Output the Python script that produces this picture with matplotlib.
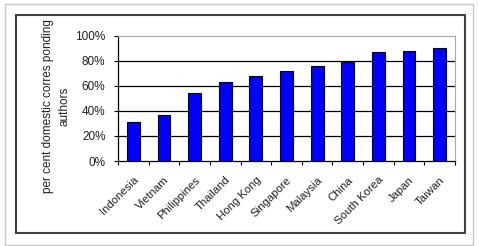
import matplotlib
matplotlib.use("Agg")
import matplotlib.pyplot as plt
from matplotlib.patches import Rectangle
from matplotlib.transforms import ScaledTranslation

categories = ["Indonesia", "Vietnam", "Philippines", "Thailand", "Hong Kong",
              "Singapore", "Malaysia", "China", "South Korea", "Japan", "Taiwan"]
values = [31, 37, 54, 63, 68, 72, 76, 79, 87, 88, 90]
yticks = [0, 20, 40, 60, 80, 100]
ytick_labels = ["0%", "20%", "40%", "60%", "80%", "100%"]

plt.rcParams['font.family'] = ['Liberation Sans', 'DejaVu Sans']

W, H = 479, 246
fig = plt.figure(figsize=(W / 100, H / 100), dpi=100)
fig.patch.set_facecolor("white")

# outer light frame and inner dark frame
fig.add_artist(Rectangle((5 / W, 1 - 245 / H), 468 / W, 241 / H, transform=fig.transFigure,
                         fill=False, edgecolor="#c8c8c8", linewidth=1.0))
fig.add_artist(Rectangle((16 / W, 1 - 233 / H), 449 / W, 218 / H, transform=fig.transFigure,
                         fill=False, edgecolor="#404040", linewidth=1.5))

ax = fig.add_axes([118 / W, 1 - 161 / H, (455 - 118) / W, (161 - 36) / H])
x = list(range(len(categories)))
ax.bar(x, values, width=0.42, color="#0000ff", edgecolor="black", linewidth=0.8, zorder=3)
ax.set_xlim(-0.5, len(categories) - 0.5)
ax.set_ylim(0, 100)
ax.set_yticks(yticks)
ax.set_yticklabels(ytick_labels, fontsize=8.5, color="#202020")
for yv in yticks[1:-1]:
    ax.axhline(yv, color="black", linewidth=0.9, zorder=1)

ax.set_xticks([i + 0.5 for i in range(-1, len(categories))])
ax.set_xticklabels([])
ax.set_xticks(x, minor=True)
ax.set_xticklabels(categories, minor=True, rotation=45, ha="right", rotation_mode="anchor",
                   fontsize=8.2, color="#202020")
off = ScaledTranslation(-5 / 100, 0, fig.dpi_scale_trans)
for lbl in ax.get_xticklabels(minor=True):
    lbl.set_transform(lbl.get_transform() + off)
ax.tick_params(axis="x", which="minor", length=0, pad=10)
ax.tick_params(axis="x", which="major", length=3, direction="out", width=0.8)
ax.tick_params(axis="y", length=3, direction="out", width=0.8, pad=6)

for s in ["top", "right"]:
    ax.spines[s].set_color("#a8a8a8")
    ax.spines[s].set_linewidth(0.8)
ax.spines["left"].set_linewidth(0.9)
ax.spines["bottom"].set_linewidth(0.9)

fig.text(56 / W, 1 - 106 / H, "per cent domestic corres ponding\nauthors", rotation=90,
         ha="center", va="center", fontsize=8.5, linespacing=1.5, color="#202020")

fig.savefig("out.png", dpi=100, facecolor="white")
